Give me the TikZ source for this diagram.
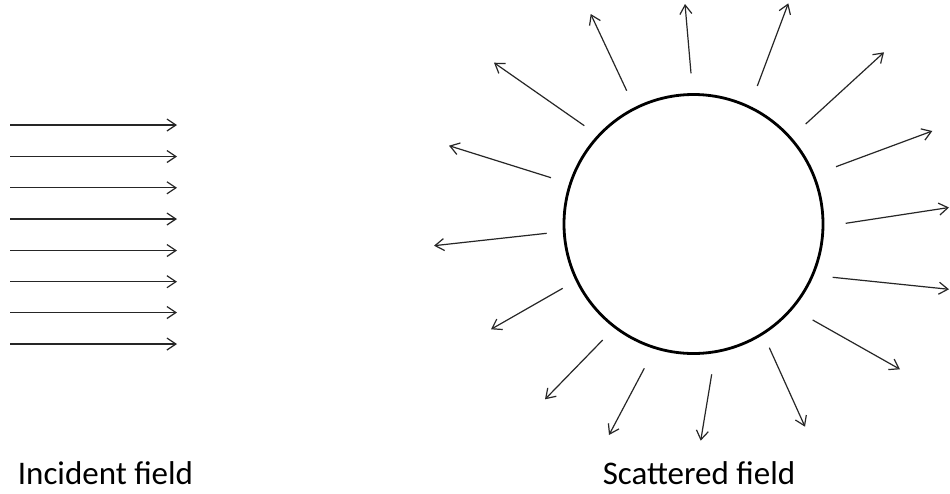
\documentclass[tikz,border=0pt]{standalone}
\usepackage{fontspec}
\setmainfont{Carlito}
\usetikzlibrary{arrows.meta}
\begin{document}
\begin{tikzpicture}[x=1pt,y=-1pt,
  ray/.style={line width=1.2pt,draw=black!85,-{Straight Barb[length=9pt,width=12pt,line width=1.2pt]}},
  lbl/.style={anchor=base,inner sep=0pt,font=\fontsize{33}{36}\selectfont}]
\path[use as bounding box,fill=white] (0,0) rectangle (950,493);
% scatterer
\node[circle,draw,line width=2.8pt,minimum size=259pt,inner sep=0pt] (sc) at (693.5,224) {};
% incident field
\foreach \i/\y in {1/125,2/156.5,3/187.8,4/219,5/250.5,6/281.7,7/312.5,8/344}{
  \coordinate (it\i) at (10,\y);
  \coordinate (ih\i) at (177,\y);
  \draw[ray] (it\i) -- (ih\i);
}
% scattered field
\foreach \n/\tx/\ty/\hx/\hy in {
  a/626.7/90.7/590.7/14,
  b/584.3/125.7/494/62.7,
  c/551/177.7/449/145.7,
  d/546.7/233.3/434/245.7,
  e/691/73.3/685/4,
  f/757.3/86/788.3/3.3,
  g/805.7/124/884/52.3,
  h/836/166.7/932.3/131,
  i/845.7/223.3/949/207.5,
  j/832.7/277.3/949/289.3,
  k/812.7/320/900/369.3,
  l/769.3/347.7/805/426.7,
  m/711.7/374.3/700.7/440.7,
  n/562.7/288.3/491/329.3,
  o/602.7/340/545/399.3,
  p/644.3/368.3/609/435}{
  \coordinate (st\n) at (\tx,\ty);
  \coordinate (sh\n) at (\hx,\hy);
  \draw[ray] (st\n) -- (sh\n);
}
\node[lbl] (inc) at (105.5,484) {Incident field};
\node[lbl] (sca) at (699,484) {Scattered field};
\end{tikzpicture}
\end{document}
